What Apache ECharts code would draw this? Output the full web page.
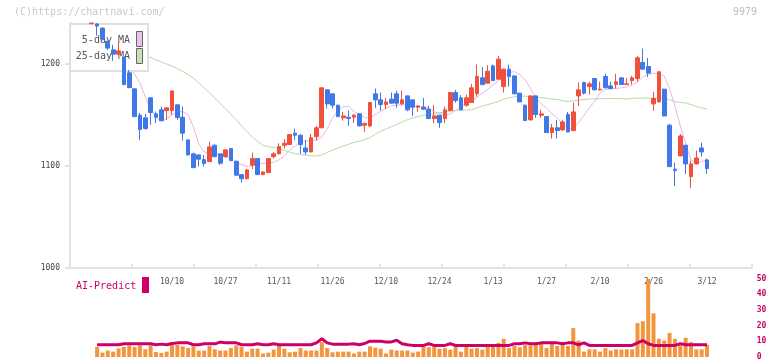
<!DOCTYPE html>
<html><head><meta charset="utf-8">
<script src="https://cdn.jsdelivr.net/npm/echarts@6/dist/echarts.min.js"></script>
<style>html,body{margin:0;padding:0;background:#fff}#c{width:772px;height:361px}</style>
</head><body><div id="c"></div>
<script>
const dates = ['9/18','9/19','9/22','9/24','9/25','9/26','9/29','9/30','10/1','10/2','10/3','10/6','10/7','10/8','10/9','10/10','10/14','10/15','10/16','10/17','10/20','10/21','10/22','10/23','10/24','10/27','10/28','10/29','10/30','10/31','11/4','11/5','11/6','11/7','11/10','11/11','11/12','11/13','11/14','11/17','11/18','11/19','11/20','11/21','11/25','11/26','11/27','11/28','12/1','12/2','12/3','12/4','12/5','12/8','12/9','12/10','12/11','12/12','12/15','12/16','12/17','12/18','12/19','12/22','12/23','12/24','12/25','12/26','12/29','12/30','1/5','1/6','1/7','1/8','1/9','1/13','1/14','1/15','1/16','1/19','1/20','1/21','1/22','1/23','1/26','1/27','1/28','1/29','1/30','2/2','2/3','2/4','2/5','2/6','2/9','2/10','2/12','2/13','2/16','2/17','2/18','2/19','2/20','2/24','2/25','2/26','2/27','3/2','3/3','3/4','3/5','3/6','3/9','3/10','3/11','3/12'];
const tickLabels = ['10/10','10/27','11/11','11/26','12/10','12/24','1/13','1/27','2/10','2/26','3/12'];
const priceTicks = [1000, 1100, 1200];

const opens = [1239.3,1239,1235,1221.9,1213.7,1209.5,1206.6,1191.2,1175.5,1149.7,1147.1,
1166.7,1151,1154.9,1154.2,1154.2,1159.8,1147.7,1125.5,1111.8,1110.8,
1106.2,1104.2,1120.3,1111.8,1109.1,1117,1104.6,1091.5,1087.5,1100.7,
1107.2,1091.5,1093.4,1109.1,1111.8,1120.3,1120.9,1132.1,1130.1,1117.6,
1113.7,1128.7,1137.3,1174.5,1170.6,1159.5,1147.1,1147.7,1147.7,1151,
1139.9,1139.2,1170.6,1164.7,1160.1,1165.4,1170.6,1160.8,1168.6,1164.7,
1157.5,1157.5,1155.6,1146.4,1149.7,1146.4,1154.2,1171.9,1166.7,1159.5,
1162.1,1170.6,1186.3,1181.1,1198,1185,1177.7,1194.8,1188.2,1171.3,
1159.5,1145.1,1168.6,1149.7,1148.3,1132.6,1137.3,1135.3,1150.3,1134.6,
1168.6,1181.7,1177.7,1185.6,1174.5,1187.6,1178.4,1179.7,1186.3,1179.7,
1183.6,1185.6,1201.3,1197.4,1160.8,1162.7,1175.2,1139.9,1096.8,1109.8,
1120.3,1089.5,1102,1117.6,1105.9];
const closes = [1240,1237,1224.2,1215.4,1209.5,1212.7,1179.7,1176.8,1148.3,1135.6,1136.6,
1152.3,1147.7,1144.4,1156.9,1173.5,1147.4,1132.1,1110.8,1098.3,1106.6,
1102.3,1118.6,1109.1,1102.6,1115.7,1105.2,1090.9,1087.5,1096.1,1107.2,
1091.5,1094.1,1107.2,1111.8,1118.9,1122.2,1130.7,1130.1,1120.9,1113.7,
1127.5,1137.3,1176.5,1160.8,1159.5,1148.3,1149,1146.4,1149.7,1139.2,
1141.6,1162.1,1164.7,1160.1,1162.7,1161.5,1161.5,1164.7,1154.9,1157.5,
1158.8,1155.6,1146.4,1149,1142.5,1154.9,1171.9,1164,1154.9,1166.7,
1176.5,1187.6,1179.7,1192.8,1183.6,1204.6,1194.8,1187.6,1170.6,1162.7,
1144.4,1168.6,1150.3,1151,1132.6,1137.3,1134.6,1143.1,1133.3,1152.9,
1174.5,1171.3,1180.4,1174.5,1175.2,1176.5,1175.8,1182.4,1179.7,1180.4,
1186.3,1205.9,1194.8,1190.9,1166,1192.2,1149,1099.3,1095.4,1129.4,
1102,1102,1107.8,1113.7,1097.4];
const lows = [1239.3,1227.5,1223,1213.7,1202.9,1209,1179,1176,1148,1125.5,1135.3,
1140.2,1141.9,1143.6,1145.1,1150,1145.1,1124.8,1110.3,1098,1099.3,
1099.3,1103.8,1108.5,1101,1108,1104.8,1090.5,1083.6,1087,1096.8,
1091,1091,1093,1107.2,1111.4,1117,1120.5,1125.5,1111.8,1111.1,
1113.3,1125,1137,1156.2,1156.2,1148,1144.4,1139.2,1141.9,1138.8,
1133.3,1138,1156.9,1154.2,1155.6,1161,1156.9,1159.5,1153.6,1149,
1153,1154.9,1146,1141.9,1137.3,1141.9,1153.8,1162,1154.5,1158,
1161.7,1168,1179,1180.7,1183.2,1184.6,1171.9,1177.7,1170.2,1162.3,
1144,1144.7,1147.1,1147.1,1132.2,1126.8,1126.8,1134.6,1132.9,1134.2,
1158.8,1169.9,1169.9,1174.1,1174,1176.1,1175.2,1175.8,1179.3,1179.3,
1179.7,1182.4,1194.4,1187,1154.2,1162.3,1148.6,1098.9,1080.4,1109.4,
1092.2,1078.4,1101.6,1109.1,1092.2];
const highs = [1240,1240,1235.5,1223,1218.6,1221.3,1207,1194.1,1176,1152,1151,
1167,1153.2,1158.1,1157.2,1174,1160.2,1158.1,1126,1113,1111.2,
1110.8,1123.8,1121,1112.2,1116.2,1117.6,1105,1092,1097,1113,
1107.6,1094.5,1107.6,1113.7,1122.2,1126.2,1131.2,1136.6,1131,1125.5,
1131.4,1139.2,1177,1175,1171,1160,1152.9,1154.2,1151,1151.4,
1142.5,1162.5,1175.8,1171.9,1166.7,1171.9,1173.8,1173.8,1169,1165,
1159.5,1166.7,1158.8,1159.5,1150,1158.1,1172.3,1174.5,1169.3,1169.9,
1180.4,1199.3,1196.7,1198.7,1199.3,1207.8,1195.2,1199.3,1188.6,1171.7,
1160,1169,1169,1154.9,1148.7,1141.2,1145.1,1145.1,1152.9,1162.1,
1181.7,1182.4,1182.4,1186,1182.4,1190.2,1182.4,1190.2,1186.7,1186.3,
1188.2,1207.8,1215,1205.9,1172.5,1192.6,1175.6,1141.2,1103.2,1131.4,
1120.7,1105.2,1115,1122.8,1107.2];
const ma5 = [1252,1248,1243,1235,1227,1220,1208,1199,1190,1181.4,1167.6,
1155.9,1147.5,1143.6,1146.1,1150,1152.9,1153.2,1150.2,1138.2,1121.6,
1113.7,1111.8,1111.8,1110.8,1109.3,1106.6,1103.4,1101.3,1099.3,1100.7,
1101.5,1102.3,1102.9,1103.6,1105.9,1110,1115.4,1119.1,1123.8,1124.2,
1124.7,1125.2,1128.4,1136.3,1147.1,1154.4,1157.8,1158.6,1153.1,1151.2,
1147.1,1147.4,1150.3,1153.6,1156.2,1158.8,1159.8,1159.8,1159.6,1158.3,
1158.3,1158.1,1156.6,1153.1,1151.8,1149.8,1151,1154.4,1158.5,1161.3,
1163.9,1167.3,1171.3,1175.2,1179.2,1183.1,1187.9,1191.8,1192.3,1189.3,
1184.3,1175.8,1166.7,1160.6,1156.7,1151.2,1147.1,1141.2,1137,1136.8,
1142.2,1149.7,1156.6,1163.4,1171.3,1174.9,1175.5,1175.9,1176.5,1177.6,
1179.1,1181.9,1187.3,1189.6,1190.9,1190.1,1188.2,1175.5,1158.8,1139.2,
1122.5,1105.9,1102,1104.6,1105.9];
const ma25 = [1225.5,1223.5,1221.6,1219.6,1217.6,1215.7,1213.7,1211.8,1210.3,1208.8,1207.5,
1206.2,1203.9,1201.8,1199.8,1197.8,1195.2,1192.7,1189.4,1185.9,1181.2,
1176.5,1171.6,1166.5,1161.3,1155.9,1150.7,1145.3,1139.2,1133.6,1128.1,
1124,1120.1,1118.9,1118.2,1116.9,1115.3,1113.5,1112,1111.3,1110.6,
1110,1109.8,1110.8,1113.2,1115.4,1117.5,1119.4,1121.2,1123,1124.3,
1125.7,1127.8,1131,1133.9,1136.2,1138.5,1140.7,1143,1145.3,1146.9,
1148.4,1149.5,1150.4,1151.1,1152.1,1152.9,1153.7,1154.4,1154.9,1154.9,
1154.9,1156.7,1158.7,1160.1,1161.4,1163.3,1165.4,1166.8,1167.7,1168.6,
1168.3,1168,1167.6,1166.8,1166.4,1165.5,1165,1163.9,1163.1,1163.7,
1164.5,1165.1,1165.5,1165.7,1165.9,1166,1166,1166,1166,1165.5,
1166.2,1166.4,1166.4,1166.4,1166.4,1166.4,1166.3,1164.9,1162.9,1162.2,
1161.6,1160.1,1158.2,1156.9,1155.6];
const volume = [null,6.4,2.8,4.1,3.4,5.5,6.4,7.4,6.4,7.4,4.9,
7.4,3.2,2.6,3.4,7.8,7.8,6.8,5.7,6.8,4.1,
4.1,7,4.9,4.1,4.1,5.7,7.4,6.4,3.4,5.3,
5.3,2.2,2.8,4.7,7,5.3,3,3.4,5.7,4.1,
4.1,4.1,9.5,5.7,3,3.4,3.4,3.4,2.2,3.4,
3.4,6.8,5.9,5.3,2.2,4.7,4.1,4.1,4.1,2.8,
3.4,7,6.2,7,5.3,5.7,4.7,7,3.4,7,
5.3,5.7,4.7,7,7,9,11.6,5.7,7,6.2,
7.8,7.4,7.8,9.5,5.7,9.5,7,8.2,7,18.4,
10.5,3.4,4.9,4.9,3.4,5.7,4.1,4.9,4.7,4.9,
4.9,21.6,22.8,49.7,27.8,11.6,10.5,15.3,11.6,7,
12.2,9.5,4.9,4.9,7.8];
const aiPredict = [null,7.8,7.8,7.8,7.8,7.8,8.4,8.4,8.4,8.4,8.4,
8.4,7.8,8.2,7.8,8.6,9,9,9,7.8,7.8,
8.4,8.4,8.4,9.5,9,9,9,7.8,7.8,7.8,
8.4,7.8,7.8,8.4,7.8,7.8,7.8,7.8,7.8,7.8,
7.8,9,11.6,9,8.2,8.2,8.2,8.2,8.4,7.8,
8.6,10.1,10.1,10.1,9.6,9.6,10.7,8.4,7.8,7.4,
7.4,7.4,8.4,7.4,7.4,7.4,8.4,7.4,7.4,7.4,
7.4,7.4,7.4,7.4,7.4,7.4,7.4,7.4,8.4,8.4,
9,8.4,8.4,9,9,9,9,8.4,9,9,
7.8,9,7.4,7.4,7.4,7.4,7.4,7.4,7.4,7.4,
7.4,9,10.5,8.4,7.4,7.4,7.4,7.4,7.4,8.4,
7.8,7.8,7.8,7.8,7.8];

const candles = dates.map((d, i) => [opens[i], closes[i], lows[i], highs[i]]);
const MONO = '"DejaVu Sans Mono", "Liberation Mono", monospace';
const AXIS_GRAY = '#e2e2e2';
const UP = '#f0503c', DOWN = '#4078e8';

const chart = echarts.init(document.getElementById('c'), null, {renderer: 'canvas'});
chart.setOption({
  animation: false,
  backgroundColor: '#fff',
  grid: [
    {left: 70, width: 682, top: 23, height: 245},
    {left: 89.1, width: 620.6, top: 23, height: 245},
    {left: 89.1, width: 620.6, top: 278.5, height: 80}
  ],
  xAxis: [
    {gridIndex: 0, type: 'value', min: 0, max: 11, interval: 1,
     axisLine: {show: true, lineStyle: {color: AXIS_GRAY, width: 2}},
     axisTick: {show: true, inside: true, length: 4, lineStyle: {color: AXIS_GRAY, width: 2}},
     axisLabel: {show: false}, splitLine: {show: false}},
    {gridIndex: 1, type: 'category', data: dates, boundaryGap: true,
     axisLine: {show: false}, axisTick: {show: false}, splitLine: {show: false},
     axisLabel: {interval: (idx, val) => tickLabels.includes(val), margin: 10,
       fontFamily: MONO, fontSize: 8, color: '#555'}},
    {gridIndex: 2, type: 'category', data: dates, boundaryGap: true, show: false}
  ],
  yAxis: [
    {gridIndex: 0, type: 'value', min: 1000, max: 1240, interval: 100,
     axisLine: {show: true, lineStyle: {color: AXIS_GRAY, width: 2}},
     axisTick: {show: true, length: 5, customValues: priceTicks, lineStyle: {color: AXIS_GRAY, width: 2}},
     axisLabel: {customValues: priceTicks, showMaxLabel: true, margin: 10, fontFamily: MONO, fontSize: 8, color: '#444',
       formatter: v => String(v)},
     splitLine: {show: false}},
    {gridIndex: 1, type: 'value', min: 1000, max: 1240, show: false, splitLine: {show: false}},
    {gridIndex: 2, type: 'value', min: 0, max: 50, interval: 10, position: 'right',
     axisLine: {show: false}, axisTick: {show: false}, splitLine: {show: false},
     axisLabel: {margin: 47, fontFamily: MONO, fontSize: 8, fontWeight: 'bold', color: '#cc0066'}}
  ],
  graphic: [
    {type: 'text', left: 14, top: 7, z: 0, style: {text: '(C)https://chartnavi.com/', font: '10px ' + MONO, fill: '#c8c8c8'}},
    {type: 'text', left: 733, top: 7, z: 0, style: {text: '9979', font: '10px ' + MONO, fill: '#c0c0c0'}},
    {type: 'rect', z: 3, shape: {x: 70, y: 24, width: 78, height: 47}, style: {fill: '#fff', stroke: '#e0e0e0', lineWidth: 2}},
    {type: 'text', z: 3, x: 130, y: 40, style: {text: '5-day MA', font: '10px ' + MONO, fill: '#555', textAlign: 'right', textVerticalAlign: 'middle', align: 'right', verticalAlign: 'middle'}},
    {type: 'text', z: 3, x: 130, y: 56.5, style: {text: '25-day MA', font: '10px ' + MONO, fill: '#555', textAlign: 'right', textVerticalAlign: 'middle', align: 'right', verticalAlign: 'middle'}},
    {type: 'rect', z: 3, shape: {x: 136.5, y: 31.5, width: 6, height: 15}, style: {fill: '#ecc2ec', stroke: '#666', lineWidth: 1}},
    {type: 'rect', z: 3, shape: {x: 136.5, y: 48.5, width: 6, height: 15}, style: {fill: '#c4e2b6', stroke: '#666', lineWidth: 1}},
    {type: 'text', z: 3, x: 76, y: 286, style: {text: 'AI-Predict', font: '10px ' + MONO, fill: '#cc0066', textVerticalAlign: 'middle', verticalAlign: 'middle'}},
    {type: 'rect', z: 3, shape: {x: 142, y: 277, width: 7, height: 16}, style: {fill: '#cc0066'}}
  ],
  series: [
    {name: '5-day MA', type: 'line', xAxisIndex: 1, yAxisIndex: 1, data: ma5, symbol: 'none', z: 1,
     lineStyle: {color: '#e8b4e8', width: 1}},
    {name: '25-day MA', type: 'line', xAxisIndex: 1, yAxisIndex: 1, data: ma25, symbol: 'none', z: 1,
     lineStyle: {color: '#b6dca8', width: 1}},
    {name: 'price', type: 'candlestick', xAxisIndex: 1, yAxisIndex: 1, data: candles, z: 5, barWidth: 4.2, clip: true,
     itemStyle: {color: UP, color0: DOWN, borderColor: UP, borderColor0: DOWN, borderWidth: 1}},
    {name: 'volume', type: 'bar', xAxisIndex: 2, yAxisIndex: 2, data: volume, barWidth: 4, z: 2,
     itemStyle: {color: '#f2963e'}},
    {name: 'AI-Predict', type: 'line', xAxisIndex: 2, yAxisIndex: 2, data: aiPredict, symbol: 'none', z: 4,
     lineStyle: {color: '#cc0066', width: 3}}
  ]
});
</script>
</body></html>
